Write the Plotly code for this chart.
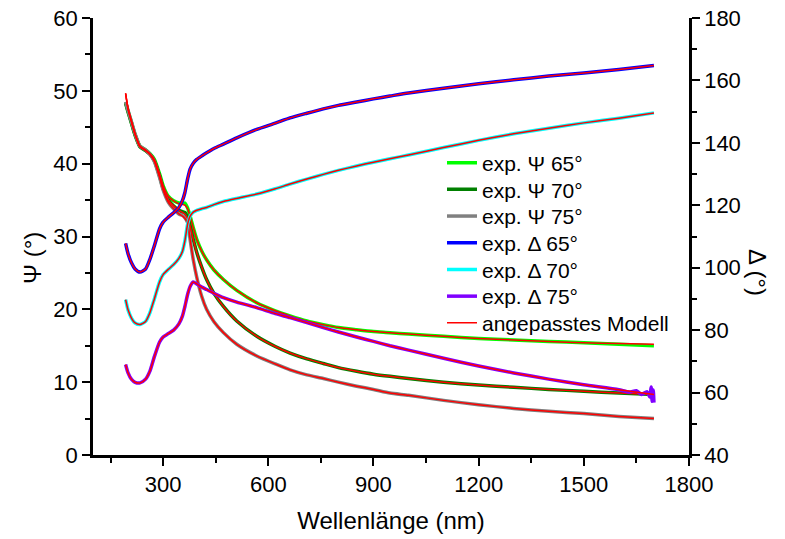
import plotly.graph_objects as go

# ---------------- data ----------------
wavelength = [193, 200, 210, 220, 234, 250, 262, 275, 290, 300, 315, 330, 345, 355, 362,
              370, 377, 386, 396, 410, 424, 445, 472, 510, 567, 620, 662, 710, 757, 800,
              852, 900, 947, 1000, 1100, 1200, 1300, 1400, 1500, 1600, 1700]

psi_65 = [48.4, 47.2, 45.6, 44.0, 42.4, 41.9, 41.4, 40.6, 38.6, 37.0, 35.5, 34.9, 34.6, 34.6, 34.6,
          33.9, 32.8, 31.2, 29.6, 28.0, 26.8, 25.4, 24.1, 22.6, 20.9, 19.8, 19.1, 18.4, 17.9, 17.5,
          17.2, 16.95, 16.8, 16.6, 16.3, 16.0, 15.8, 15.6, 15.4, 15.2, 15.0]
psi_70 = [48.3, 47.1, 45.5, 43.9, 42.3, 41.8, 41.3, 40.4, 38.3, 36.6, 35.0, 34.2, 33.6, 33.4, 33.3,
          32.6, 31.4, 29.6, 27.8, 25.8, 24.1, 22.2, 20.4, 18.4, 16.3, 14.9, 14.0, 13.2, 12.56, 12.0,
          11.5, 11.1, 10.8, 10.5, 10.0, 9.6, 9.3, 9.0, 8.75, 8.5, 8.3]
psi_75 = [48.5, 47.3, 45.7, 44.1, 42.4, 41.9, 41.3, 40.3, 38.1, 36.4, 34.7, 33.8, 33.1, 32.9, 32.6,
          31.9, 29.6, 26.8, 24.4, 21.8, 20.0, 18.3, 16.8, 15.2, 13.6, 12.5, 11.7, 11.0, 10.5, 10.0,
          9.45, 9.0, 8.5, 8.2, 7.5, 6.9, 6.4, 6.0, 5.7, 5.3, 5.0]
delta_65 = [107.8, 104.5, 101.5, 99.6, 98.6, 99.6, 102.6, 107.0, 112.5, 114.6, 116.2, 117.6, 119.3, 121.5, 124.0,
            128.5, 131.6, 133.5, 134.7, 135.8, 136.8, 138.2, 139.6, 141.6, 144.3, 146.3, 148.0, 149.5, 150.9, 152.0,
            153.1, 154.1, 155.0, 156.0, 157.5, 158.9, 160.2, 161.4, 162.4, 163.5, 164.8]
delta_70 = [89.8, 86.5, 83.8, 82.3, 81.8, 82.8, 85.5, 90.0, 95.5, 97.8, 99.5, 101.0, 103.0, 105.2, 108.5,
            114.0, 116.5, 117.8, 118.4, 118.9, 119.3, 120.2, 121.2, 122.2, 123.6, 125.3, 126.8, 128.4, 129.9, 131.2,
            132.6, 133.8, 134.9, 136.1, 138.5, 140.8, 142.9, 144.7, 146.4, 147.9, 149.6]
delta_75 = [69.0, 66.3, 64.2, 63.3, 63.1, 64.3, 66.8, 71.5, 76.2, 77.8, 78.9, 80.0, 82.0, 84.5, 87.5,
            91.5, 94.0, 95.4, 94.8, 93.8, 93.0, 91.8, 90.4, 89.0, 87.2, 85.3, 84.0, 82.4, 80.8, 79.4,
            77.8, 76.4, 75.0, 73.6, 71.0, 68.5, 66.3, 64.3, 62.5, 60.9, 59.4]

# noisy end of the measured Delta 75 curve
tail_wavelength = [1600, 1630, 1650, 1665, 1680, 1688, 1692, 1695, 1698, 1700]
tail_delta_75 = [60.9, 60.2, 60.6, 59.4, 60.3, 58.6, 61.8, 57.2, 60.8, 56.8]

# fitted model
model_psi_65 = [49.6, 47.6, 45.8, 44.1, 42.4, 41.8, 41.4, 40.6, 38.6, 37.0, 35.5, 34.9, 34.5, 34.4, 34.3,
                33.8, 32.8, 31.2, 29.6, 28.0, 26.8, 25.4, 24.1, 22.6, 20.9, 19.8, 19.1, 18.4, 17.9, 17.5,
                17.2, 16.95, 16.8, 16.6, 16.3, 16.0, 15.8, 15.6, 15.4, 15.3, 15.2]
model_psi_70 = [49.6, 47.5, 45.7, 44.0, 42.3, 41.8, 41.3, 40.4, 38.3, 36.6, 35.0, 34.2, 33.6, 33.3, 33.1,
                32.5, 31.4, 29.6, 27.8, 25.8, 24.1, 22.2, 20.4, 18.4, 16.3, 14.9, 14.0, 13.2, 12.56, 12.0,
                11.5, 11.1, 10.8, 10.5, 10.0, 9.6, 9.3, 9.0, 8.75, 8.5, 8.3]
model_psi_75 = [49.7, 47.6, 45.8, 44.1, 42.4, 41.9, 41.3, 40.3, 38.1, 36.4, 34.7, 33.8, 33.1, 32.8, 32.5,
                31.8, 29.6, 26.8, 24.4, 21.8, 20.0, 18.3, 16.8, 15.2, 13.6, 12.5, 11.7, 11.0, 10.5, 10.0,
                9.45, 9.0, 8.5, 8.2, 7.5, 6.9, 6.4, 6.0, 5.7, 5.3, 5.0]
model_delta_65 = delta_65
model_delta_70 = delta_70
model_delta_75 = delta_75

x_ticks = [300, 600, 900, 1200, 1500, 1800]

# ---------------- figure ----------------
FONT = "Liberation Sans, Arial, sans-serif"
W, H = 785, 539
ML, MR, MT, MB = 93, 96, 18, 84
plot_w = W - ML - MR
plot_h = H - MT - MB

fig = go.Figure()

exp_series = [
    ("exp. \u03a8 65\u00b0", psi_65, "y", "#00ff00", wavelength),
    ("exp. \u03a8 70\u00b0", psi_70, "y", "#008000", wavelength),
    ("exp. \u03a8 75\u00b0", psi_75, "y", "#808080", wavelength),
    ("exp. \u0394 65\u00b0", delta_65, "y2", "#0000ff", wavelength),
    ("exp. \u0394 70\u00b0", delta_70, "y2", "#00ffff", wavelength),
    ("exp. \u0394 75\u00b0", delta_75[:-2] + tail_delta_75, "y2", "#8000ff",
     wavelength[:-2] + tail_wavelength),
]
legend_names = ["legend"] + ["legend%d" % k for k in range(2, 8)]

for i, (name, vals, yax, col, xs) in enumerate(exp_series):
    fig.add_trace(go.Scatter(x=xs, y=vals, name=name, yaxis=yax, mode="lines",
                             legend=legend_names[i], showlegend=True,
                             line=dict(color=col, width=3.5, shape="spline", smoothing=0.6)))

model_series = [(model_psi_65, "y"), (model_psi_70, "y"), (model_psi_75, "y"),
                (model_delta_65, "y2"), (model_delta_70, "y2"), (model_delta_75, "y2")]
for i, (vals, yax) in enumerate(model_series):
    fig.add_trace(go.Scatter(x=wavelength, y=vals, name="angepasstes Modell", yaxis=yax,
                             mode="lines", showlegend=(i == 0), legend=legend_names[6],
                             line=dict(color="#ff0000", width=1.5, shape="spline", smoothing=0.6)))

axis_common = dict(showgrid=False, zeroline=False, showline=True, linecolor="black",
                   linewidth=2.5, ticks="outside", tickcolor="black", tickwidth=2,
                   ticklen=8, automargin=False,
                   tickfont=dict(family=FONT, size=22, color="black"))

# legend rows (pixel centres of each row in the reference)
row_top, row_step = 163, 26.7
legend_x = (442 - ML) / plot_w
legends = {}
for i, ln in enumerate(legend_names):
    ypx = row_top + i * row_step
    legends[ln] = dict(x=legend_x, y=(H - MB - ypx) / plot_h, xanchor="left", yanchor="middle",
                       font=dict(family=FONT, size=21, color="black"),
                       bgcolor="rgba(0,0,0,0)", borderwidth=0, visible=True)

fig.update_layout(
    width=W, height=H,
    margin=dict(l=ML, r=MR, t=MT, b=MB),
    paper_bgcolor="white", plot_bgcolor="white",
    showlegend=True,
    font=dict(family=FONT, color="black"),
    xaxis=dict(range=[100, 1800], tickvals=x_ticks,
               minor=dict(ticks="outside", ticklen=5, tickwidth=2, tickcolor="black",
                          tick0=0, dtick=150),
               title=dict(text="Wellenl\u00e4nge (nm)", font=dict(family=FONT, size=24),
                          standoff=17),
               **axis_common),
    yaxis=dict(range=[0, 60], dtick=10,
               minor=dict(ticks="outside", ticklen=5, tickwidth=2, tickcolor="black", dtick=5),
               **axis_common),
    yaxis2=dict(range=[40, 180], dtick=20, overlaying="y", side="right",
                minor=dict(ticks="outside", ticklen=5, tickwidth=2, tickcolor="black", dtick=10),
                **axis_common),
    annotations=[
        dict(text="\u03a8 (\u00b0)", xref="paper", yref="paper",
             x=(32 - ML) / plot_w, y=(H - MB - 258) / plot_h, xanchor="center", yanchor="middle",
             textangle=-90, showarrow=False, font=dict(family=FONT, size=24)),
        dict(text="\u0394 (\u00b0)", xref="paper", yref="paper",
             x=(758 - ML) / plot_w, y=(H - MB - 272) / plot_h, xanchor="center", yanchor="middle",
             textangle=90, showarrow=False, font=dict(family=FONT, size=24)),
    ],
    **legends,
)

fig.write_html("out.html", config={"displayModeBar": False},
               post_script="document.body.style.margin='0px';")
